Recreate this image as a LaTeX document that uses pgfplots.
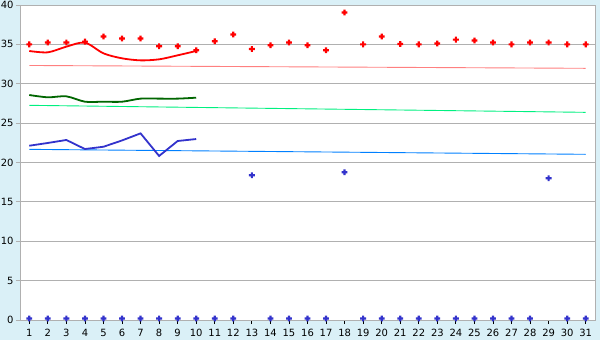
\documentclass[border=0pt]{standalone}
\usepackage{pgfplots}
\pgfplotsset{compat=1.18}
\usepackage{fontspec}
\setmainfont{DejaVu Sans}
\definecolor{bg}{RGB}{218,240,247}
\definecolor{gridc}{RGB}{176,176,176}
\definecolor{pinkl}{RGB}{255,128,128}
\definecolor{greenl}{RGB}{0,240,128}
\definecolor{bluel}{RGB}{0,128,255}
\definecolor{darkg}{RGB}{0,102,0}
\definecolor{blued}{RGB}{51,51,204}
\pgfdeclareplotmark{fplus}{%
  \pgfpathmoveto{\pgfqpoint{-1.1bp}{-2.9bp}}%
  \pgfpathlineto{\pgfqpoint{1.1bp}{-2.9bp}}%
  \pgfpathlineto{\pgfqpoint{1.1bp}{-1.1bp}}%
  \pgfpathlineto{\pgfqpoint{2.9bp}{-1.1bp}}%
  \pgfpathlineto{\pgfqpoint{2.9bp}{1.1bp}}%
  \pgfpathlineto{\pgfqpoint{1.1bp}{1.1bp}}%
  \pgfpathlineto{\pgfqpoint{1.1bp}{2.9bp}}%
  \pgfpathlineto{\pgfqpoint{-1.1bp}{2.9bp}}%
  \pgfpathlineto{\pgfqpoint{-1.1bp}{1.1bp}}%
  \pgfpathlineto{\pgfqpoint{-2.9bp}{1.1bp}}%
  \pgfpathlineto{\pgfqpoint{-2.9bp}{-1.1bp}}%
  \pgfpathlineto{\pgfqpoint{-1.1bp}{-1.1bp}}%
  \pgfpathclose
  \pgfusepathqfill}
\begin{document}
\begin{tikzpicture}
\fill[bg] (0bp,0bp) rectangle (600bp,340bp);
\useasboundingbox (0bp,0bp) rectangle (600bp,340bp);
\begin{axis}[
  at={(20bp,20bp)}, anchor=south west,
  scale only axis, width=575bp, height=315bp,
  xmin=0.5, xmax=31.5, ymin=0, ymax=40,
  xtick={1,...,31}, ytick={0,5,...,40},
  tick align=outside, xtick pos=bottom, ytick pos=left,
  x tick style={black, line width=0.8bp}, y tick style={gridc, line width=0.8bp},
  major tick length=4bp,
  axis line style={gridc, line width=0.8bp},
  ymajorgrids, grid style={gridc, line width=0.8bp},
  axis background/.style={fill=white},
  /pgf/number format/assume math mode=true,
  tick label style={font=\fontsize{10}{12}\selectfont, black},
  xticklabel style={yshift=-2bp},
  yticklabel style={xshift=1bp},
  clip=false,
]
% thin trend lines
\addplot[pinkl, line width=0.9bp] coordinates {(1,32.32) (31,31.96)};
\addplot[greenl, line width=0.9bp] coordinates {(1,27.26) (31,26.37)};
\addplot[bluel, line width=0.9bp] coordinates {(1,21.67) (31,21.04)};
% thick lines days 1-10
\addplot[red, line width=1.8bp, smooth, tension=0.5] coordinates {
(1,34.16) (2,33.99) (3,34.71) (4,35.22) (5,33.86) (6,33.23) (7,32.97) (8,33.10) (9,33.61) (10,34.16)};
\addplot[darkg, line width=1.8bp, smooth, tension=0.5] coordinates {
(1,28.57) (2,28.28) (3,28.40) (4,27.72) (5,27.72) (6,27.72) (7,28.11) (8,28.11) (9,28.11) (10,28.23)};
\addplot[blued, line width=1.8bp] coordinates {
(1,22.13) (2,22.48) (3,22.86) (4,21.71) (5,22.0) (6,22.8) (7,23.7) (8,20.83) (9,22.73) (10,22.98)};
% red markers
\addplot[only marks, red, mark=fplus] coordinates {
(1,35.0) (2,35.25) (3,35.25) (4,35.35) (5,36.0) (6,35.75) (7,35.75) (8,34.75) (9,34.75) (10,34.25)
(11,35.4) (12,36.25) (13,34.4) (14,34.9) (15,35.25) (16,34.9) (17,34.25) (18,39.05) (19,35.0) (20,36.0)
(21,35.05) (22,35.0) (23,35.1) (24,35.6) (25,35.5) (26,35.25) (27,35.0) (28,35.25) (29,35.25) (30,35.0) (31,35.0)};
% blue markers
\addplot[only marks, blued, mark=fplus] coordinates {
(1,0.2) (2,0.2) (3,0.2) (4,0.2) (5,0.2) (6,0.2) (7,0.2) (8,0.2) (9,0.2) (10,0.2)
(11,0.2) (12,0.2) (13,18.37) (14,0.2) (15,0.2) (16,0.2) (17,0.2) (18,18.75) (19,0.2) (20,0.2)
(21,0.2) (22,0.2) (23,0.2) (24,0.2) (25,0.2) (26,0.2) (27,0.2) (28,0.2) (29,18.0) (30,0.2) (31,0.2)};
\end{axis}
\end{tikzpicture}
\end{document}
